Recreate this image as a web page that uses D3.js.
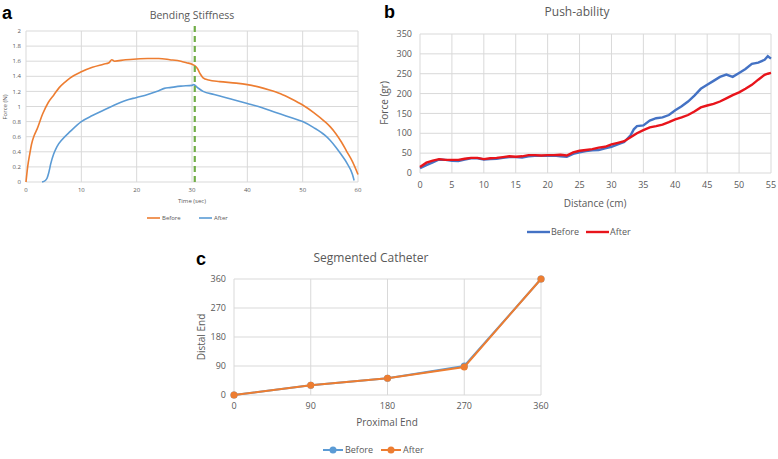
<!DOCTYPE html>
<html>
<head>
<meta charset="utf-8">
<script src="https://cdn.jsdelivr.net/npm/d3@7"></script>
<style>
  body { margin: 0; background: #fff; }
  text { font-family: "Open Sans", "Liberation Sans", sans-serif; fill: #595959; }
  .grid line { stroke: #d9d9d9; stroke-width: 1; }
  .letter { font-family: "Liberation Sans", Arial, sans-serif; font-weight: bold; fill: #000; }
</style>
</head>
<body>
<div id="chart"></div>
<script>
var width = 778, height = 459;

// ---- panel a: Bending Stiffness ----
var bendBeforeT = [0,0.3,0.7,1,1.5,2,3,4,5,6,7,8,10,12,14,15,15.5,16,18,20,22,24,26,28,29,30,30.5,31,31.5,32,33,35,38,40,42,44,46,48,50,52,54,55,56,57,58,59,60];
var bendBeforeF = [0,0.2,0.38,0.5,0.62,0.7,0.9,1.05,1.15,1.25,1.32,1.38,1.46,1.52,1.56,1.58,1.62,1.6,1.62,1.63,1.635,1.635,1.62,1.6,1.58,1.56,1.54,1.5,1.43,1.38,1.35,1.33,1.31,1.29,1.26,1.22,1.17,1.1,1.02,0.92,0.8,0.73,0.64,0.53,0.4,0.27,0.1];
var bendAfterT = [2.9,3.5,3.8,4.1,4.5,5,5.6,6.5,8,10,12,14,16,18,20,22,24,25,26,28,30,30.3,31,32,34,36,38,40,42,44,46,48,50,52,54,55,56,57,58,59,59.3];
var bendAfterF = [0,0.02,0.05,0.12,0.25,0.37,0.47,0.56,0.67,0.8,0.88,0.95,1.02,1.08,1.12,1.16,1.21,1.24,1.25,1.27,1.28,1.29,1.25,1.2,1.16,1.12,1.08,1.04,1.0,0.95,0.9,0.85,0.8,0.72,0.62,0.55,0.46,0.36,0.25,0.1,0.02];
var bendXTicks = [0,10,20,30,40,50,60];
var bendYTicks = [0,0.2,0.4,0.6,0.8,1,1.2,1.4,1.6,1.8,2];
var bendMarker = 30.5;

// ---- panel b: Push-ability ----
var pushX = [0,1,2,3,4,5,6,7,8,9,10,11,12,13,14,15,16,17,18,19,20,21,22,23,24,25,26,27,28,29,30,31,32,33,33.5,34,35,36,37,38,39,40,41,42,43,44,45,46,47,48,49,50,51,52,53,54,54.5,55];
var pushBefore = [12,20,27,34,33,31,30,34,37,37,34,35,36,38,40,40,39,42,43,43,43,44,42,41,48,52,55,57,58,62,66,72,78,95,110,118,120,132,138,140,146,158,168,180,195,212,222,232,242,248,242,252,262,275,278,285,294,288];
var pushAfter  = [15,26,31,35,33,33,33,36,38,38,35,37,38,40,42,41,42,45,45,44,45,45,46,44,52,56,58,60,64,66,72,76,80,90,95,100,108,115,118,122,128,135,140,146,155,165,170,174,180,188,196,203,212,222,235,247,250,252];
var pushXTicks = [0,5,10,15,20,25,30,35,40,45,50,55];
var pushYTicks = [0,50,100,150,200,250,300,350];

// ---- panel c: Segmented Catheter ----
var segX = [0,90,180,270,360];
var segBefore = [0,30,52,90,360];
var segAfter = [0,30,52,87,360];
var segTicks = [0,90,180,270,360];

var svg = d3.select("#chart")
    .append("svg")
    .attr("width", width)
    .attr("height", height);

function grid(g, x, y, xt, yt) {
  var gg = g.append("g").attr("class", "grid");
  gg.selectAll(".v").data(xt).enter().append("line")
      .attr("x1", d => x(d)).attr("x2", d => x(d))
      .attr("y1", y.range()[0]).attr("y2", y.range()[1]);
  gg.selectAll(".h").data(yt).enter().append("line")
      .attr("y1", d => y(d)).attr("y2", d => y(d))
      .attr("x1", x.range()[0]).attr("x2", x.range()[1]);
}

function tickLabels(g, x, y, xt, yt, fs, xdy, ydx, fmt) {
  g.selectAll(".xt").data(xt).enter().append("text")
      .attr("x", d => x(d)).attr("y", y.range()[0] + xdy)
      .attr("text-anchor", "middle").attr("font-size", fs)
      .text(fmt || (d => d));
  g.selectAll(".yt").data(yt).enter().append("text")
      .attr("x", x.range()[0] - ydx).attr("y", d => y(d))
      .attr("dy", "0.35em")
      .attr("text-anchor", "end").attr("font-size", fs)
      .text(fmt || (d => d));
}

// ===== panel a =====
(function() {
  var x = d3.scaleLinear().domain([0, 60]).range([26, 358]);
  var y = d3.scaleLinear().domain([0, 2]).range([182, 31]);
  var g = svg.append("g");
  grid(g, x, y, bendXTicks, bendYTicks);
  tickLabels(g, x, y, bendXTicks, bendYTicks, 6, 10, 5);

  var line = d3.line().x(d => x(d[0])).y(d => y(d[1])).curve(d3.curveMonotoneX);
  g.append("path").datum(d3.zip(bendBeforeT, bendBeforeF))
      .attr("d", line).attr("fill", "none").attr("stroke", "#ed7d31").attr("stroke-width", 1.6);
  g.append("path").datum(d3.zip(bendAfterT, bendAfterF))
      .attr("d", line).attr("fill", "none").attr("stroke", "#5b9bd5").attr("stroke-width", 1.6);

  g.append("line")
      .attr("x1", x(bendMarker)).attr("x2", x(bendMarker))
      .attr("y1", y(0)).attr("y2", 25)
      .attr("stroke", "#70ad47").attr("stroke-width", 2.2)
      .attr("stroke-dasharray", "6,4");

  g.append("text").attr("x", 192).attr("y", 19).attr("text-anchor", "middle")
      .attr("font-size", 10.5).text("Bending Stiffness");
  g.append("text").attr("x", 192).attr("y", 203).attr("text-anchor", "middle")
      .attr("font-size", 6).text("Time (sec)");
  g.append("text").attr("transform", "translate(7,107) rotate(-90)")
      .attr("text-anchor", "middle").attr("font-size", 6).text("Force (N)");

  var leg = [["Before", "#ed7d31", 147], ["After", "#5b9bd5", 199]];
  leg.forEach(function(l) {
    g.append("line").attr("x1", l[2]).attr("x2", l[2] + 13).attr("y1", 218).attr("y2", 218)
        .attr("stroke", l[1]).attr("stroke-width", 1.6);
    g.append("text").attr("x", l[2] + 15).attr("y", 218).attr("dy", "0.35em")
        .attr("font-size", 6).text(l[0]);
  });
  svg.append("text").attr("class", "letter").attr("x", 2).attr("y", 19)
      .attr("font-size", 18).text("a");
})();

// ===== panel b =====
(function() {
  var x = d3.scaleLinear().domain([0, 55]).range([420, 771]);
  var y = d3.scaleLinear().domain([0, 350]).range([173, 34]);
  var g = svg.append("g");
  grid(g, x, y, pushXTicks, pushYTicks);
  tickLabels(g, x, y, pushXTicks, pushYTicks, 9, 15, 8);

  var line = d3.line().x(d => x(d[0])).y(d => y(d[1]));
  g.append("path").datum(d3.zip(pushX, pushBefore))
      .attr("d", line).attr("fill", "none").attr("stroke", "#4472c4").attr("stroke-width", 2.4);
  g.append("path").datum(d3.zip(pushX, pushAfter))
      .attr("d", line).attr("fill", "none").attr("stroke", "#e8141b").attr("stroke-width", 2.4);

  g.append("text").attr("x", 577).attr("y", 16).attr("text-anchor", "middle")
      .attr("font-size", 12).text("Push-ability");
  g.append("text").attr("x", 595).attr("y", 207).attr("text-anchor", "middle")
      .attr("font-size", 10).text("Distance (cm)");
  g.append("text").attr("transform", "translate(388,103) rotate(-90)")
      .attr("text-anchor", "middle").attr("font-size", 10).text("Force (gr)");

  var leg = [["Before", "#4472c4", 527], ["After", "#e8141b", 586]];
  leg.forEach(function(l) {
    g.append("line").attr("x1", l[2]).attr("x2", l[2] + 23).attr("y1", 232).attr("y2", 232)
        .attr("stroke", l[1]).attr("stroke-width", 2.4);
    g.append("text").attr("x", l[2] + 24).attr("y", 232).attr("dy", "0.35em")
        .attr("font-size", 9).text(l[0]);
  });
  svg.append("text").attr("class", "letter").attr("x", 384).attr("y", 18)
      .attr("font-size", 18).text("b");
})();

// ===== panel c =====
(function() {
  var x = d3.scaleLinear().domain([0, 360]).range([234, 541]);
  var y = d3.scaleLinear().domain([0, 360]).range([395, 279]);
  var g = svg.append("g");
  grid(g, x, y, segTicks, segTicks);
  tickLabels(g, x, y, segTicks, segTicks, 9, 14, 8);

  var line = d3.line().x(d => x(d[0])).y(d => y(d[1]));
  var series = [[segBefore, "#5b9bd5"], [segAfter, "#ed7d31"]];
  series.forEach(function(s) {
    var pts = d3.zip(segX, s[0]);
    g.append("path").datum(pts).attr("d", line).attr("fill", "none")
        .attr("stroke", s[1]).attr("stroke-width", 2);
    g.selectAll(null).data(pts).enter().append("circle")
        .attr("cx", d => x(d[0])).attr("cy", d => y(d[1])).attr("r", 3.5)
        .attr("fill", s[1]);
  });

  g.append("text").attr("x", 371).attr("y", 262).attr("text-anchor", "middle")
      .attr("font-size", 12).text("Segmented Catheter");
  g.append("text").attr("x", 387).attr("y", 426).attr("text-anchor", "middle")
      .attr("font-size", 10).text("Proximal End");
  g.append("text").attr("transform", "translate(205,337) rotate(-90)")
      .attr("text-anchor", "middle").attr("font-size", 10).text("Distal End");

  var leg = [["Before", "#5b9bd5", 323], ["After", "#ed7d31", 381]];
  leg.forEach(function(l) {
    g.append("line").attr("x1", l[2]).attr("x2", l[2] + 20).attr("y1", 450).attr("y2", 450)
        .attr("stroke", l[1]).attr("stroke-width", 2);
    g.append("circle").attr("cx", l[2] + 10).attr("cy", 450).attr("r", 3.5).attr("fill", l[1]);
    g.append("text").attr("x", l[2] + 22).attr("y", 450).attr("dy", "0.35em")
        .attr("font-size", 9).text(l[0]);
  });
  svg.append("text").attr("class", "letter").attr("x", 196).attr("y", 265)
      .attr("font-size", 18).text("c");
})();
</script>
</body>
</html>
